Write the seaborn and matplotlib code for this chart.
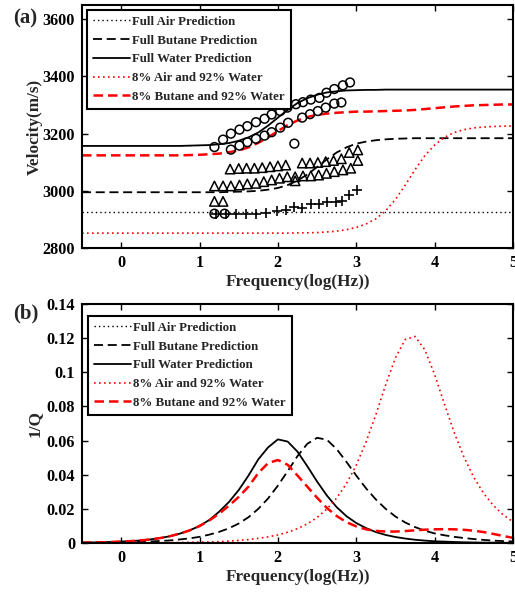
import matplotlib
matplotlib.use("Agg")
import matplotlib.pyplot as plt
import seaborn as sns
from matplotlib.ticker import FuncFormatter

# ---- data ----
freq = [-0.5, -0.375, -0.25, -0.125, 0.0, 0.125, 0.25, 0.375, 0.5, 0.625, 0.75, 0.875,
        1.0, 1.125, 1.25, 1.375, 1.5, 1.625, 1.75, 1.875, 2.0, 2.125, 2.25, 2.375,
        2.5, 2.625, 2.75, 2.875, 3.0, 3.125, 3.25, 3.375, 3.5, 3.625, 3.75, 3.875,
        4.0, 4.125, 4.25, 4.375, 4.5, 4.625, 4.75, 4.875, 5.0]

air_freq = [-0.5, 5.0]
vel_air = [2925, 2925]
vel_butane = [2995, 2995, 2995, 2995, 2995, 2995, 2995, 2995, 2995, 2995, 2995, 2995,
              2995, 2995, 2995, 2996, 2997, 2998, 3000, 3004, 3010, 3020, 3036, 3057,
              3083, 3110, 3134, 3152, 3165, 3172, 3177, 3180, 3182, 3183, 3184, 3184,
              3184, 3184, 3184, 3184, 3184, 3184, 3184, 3184, 3184]
vel_water = [3157, 3157, 3157, 3157, 3157, 3157, 3157, 3157, 3157, 3157, 3157, 3158,
             3159, 3160, 3163, 3167, 3175, 3187, 3204, 3228, 3256, 3283, 3307, 3324,
             3336, 3344, 3348, 3351, 3352, 3353, 3353, 3354, 3354, 3354, 3354, 3354,
             3354, 3354, 3354, 3354, 3354, 3354, 3354, 3354, 3354]
vel_air_water = [2852, 2852, 2852, 2852, 2852, 2852, 2852, 2852, 2852, 2852, 2852, 2852,
                 2852, 2852, 2852, 2852, 2852, 2852, 2852, 2852, 2852, 2852, 2853, 2853,
                 2854, 2856, 2859, 2864, 2872, 2884, 2902, 2930, 2970, 3020, 3074, 3123,
                 3160, 3187, 3204, 3214, 3220, 3223, 3225, 3226, 3227]
vel_butane_water = [3124, 3124, 3124, 3124, 3124, 3124, 3124, 3124, 3124, 3124, 3124, 3125,
                    3126, 3128, 3130, 3135, 3141, 3152, 3168, 3187, 3209, 3230, 3246, 3258,
                    3266, 3270, 3273, 3275, 3277, 3277, 3278, 3279, 3280, 3281, 3283, 3286,
                    3289, 3292, 3295, 3297, 3299, 3300, 3301, 3302, 3302]

invq_air = [0.0, 0.0]
invq_butane = [0.0001, 0.0002, 0.0002, 0.0003, 0.0004, 0.0005, 0.0006, 0.0009, 0.0012, 0.0015,
               0.0021, 0.0027, 0.0036, 0.0049, 0.0065, 0.0086, 0.0114, 0.0151, 0.0200, 0.0261,
               0.0336, 0.0421, 0.0509, 0.0581, 0.0616, 0.0605, 0.0550, 0.0475, 0.0395, 0.0320,
               0.0255, 0.0200, 0.0155, 0.0120, 0.0093, 0.0072, 0.0056, 0.0045, 0.0036, 0.0029,
               0.0023, 0.0018, 0.0014, 0.0011, 0.0009]
invq_water = [0.0002, 0.0003, 0.0004, 0.0006, 0.0008, 0.0011, 0.0015, 0.0021, 0.0029, 0.0040,
              0.0055, 0.0074, 0.0100, 0.0135, 0.0183, 0.0240, 0.0310, 0.0395, 0.0490, 0.0560,
              0.0607, 0.0594, 0.0535, 0.0450, 0.0360, 0.0278, 0.0210, 0.0157, 0.0117, 0.0087,
              0.0064, 0.0047, 0.0035, 0.0026, 0.0019, 0.0014, 0.0010, 0.0008, 0.0006, 0.0004,
              0.0003, 0.0002, 0.0002, 0.0001, 0.0001]
invq_air_water = [0.0, 0.0, 0.0, 0.0, 0.0001, 0.0001, 0.0001, 0.0001, 0.0001, 0.0002,
                  0.0003, 0.0004, 0.0005, 0.0006, 0.0008, 0.0011, 0.0015, 0.0020, 0.0027, 0.0036,
                  0.0047, 0.0063, 0.0084, 0.0112, 0.0149, 0.0199, 0.0263, 0.0348, 0.0456, 0.0592,
                  0.0752, 0.0926, 0.1085, 0.1192, 0.1210, 0.1132, 0.0987, 0.0814, 0.0647, 0.0502,
                  0.0384, 0.0291, 0.0220, 0.0165, 0.0124]
invq_butane_water = [0.0002, 0.0003, 0.0004, 0.0006, 0.0008, 0.0011, 0.0015, 0.0021, 0.0029, 0.0040,
                     0.0055, 0.0074, 0.0099, 0.0132, 0.0172, 0.0218, 0.0270, 0.0330, 0.0410, 0.0468,
                     0.0486, 0.0458, 0.0395, 0.0330, 0.0265, 0.0205, 0.0158, 0.0122, 0.0097, 0.0080,
                     0.0071, 0.0067, 0.0067, 0.0070, 0.0074, 0.0078, 0.0080, 0.0081, 0.0080, 0.0077,
                     0.0072, 0.0064, 0.0053, 0.0041, 0.0030]

# measured points (panel a)
circle_freq = [1.19, 1.30, 1.40, 1.51, 1.61, 1.72, 1.83, 1.92, 2.03, 2.12, 2.23, 2.32, 2.42,
               2.53, 2.62, 2.72, 2.83, 2.92,
               1.40, 1.51, 1.61, 1.72, 1.83, 1.92, 2.03, 2.13, 2.31, 2.41, 2.51, 2.61, 2.72, 2.81,
               2.21, 1.19, 1.32]
circle_vel = [3153, 3179, 3200, 3214, 3226, 3240, 3252, 3267, 3279, 3291, 3303, 3310, 3319,
              3325, 3343, 3356, 3369, 3379,
              3144, 3158, 3170, 3182, 3193, 3205, 3221, 3238, 3256, 3268, 3279, 3291, 3305, 3309,
              3165, 2920, 2920]
tri_freq = [1.39, 1.50, 1.60, 1.70, 1.80, 1.90, 2.00, 2.10, 2.31, 2.41, 2.51, 2.61, 2.71,
            2.81, 2.91, 3.02,
            1.19, 1.30, 1.40, 1.51, 1.61, 1.72, 1.82, 1.92, 2.02, 2.12, 2.22, 2.32, 2.42,
            2.52, 2.62, 2.72, 2.83, 2.93, 3.02,
            2.22, 1.19, 1.30]
tri_vel = [3076, 3078, 3079, 3079, 3081, 3084, 3087, 3090, 3097, 3097, 3099, 3102, 3106,
           3112, 3134, 3143,
           3017, 3017, 3017, 3020, 3024, 3026, 3032, 3038, 3044, 3049, 3049, 3052, 3052,
           3055, 3061, 3067, 3073, 3079, 3106,
           3035, 2963, 2963]
plus_freq = [1.21, 1.34, 1.47, 1.59, 1.72, 1.85, 1.99, 2.10, 2.21, 2.31, 2.42, 2.52, 2.63,
             2.74, 2.82, 2.91, 3.01]
plus_vel = [2920, 2920, 2920, 2920, 2920, 2922, 2928, 2934, 2943, 2941, 2953, 2955, 2961,
            2961, 2965, 2987, 3002]

labels = ["Full Air Prediction", "Full Butane Prediction", "Full Water Prediction",
          "8% Air and 92% Water", "8% Butane and 92% Water"]
x_ticks = [0, 1, 2, 3, 4, 5]
vel_ticks = [2800, 3000, 3200, 3400, 3600]
invq_ticks = [0, 0.02, 0.04, 0.06, 0.08, 0.1, 0.12, 0.14]

# ---- style ----
sns.set_theme(style="ticks")
plt.rcParams["font.family"] = ["Liberation Serif", "DejaVu Serif"]
plt.rcParams["font.weight"] = "bold"
plt.rcParams["axes.labelweight"] = "bold"

styles = [
    dict(color="black", lw=1.0, linestyle=(0, (1, 2.2))),
    dict(color="black", lw=1.3, linestyle=(0, (5, 2.6))),
    dict(color="black", lw=1.3, linestyle="-"),
    dict(color="red", lw=1.2, linestyle=(0, (1, 2.0))),
    dict(color="red", lw=1.8, linestyle=(0, (3.8, 2.0))),
]

fig = plt.figure(figsize=(5.15, 5.92), dpi=100)
ax_a = fig.add_axes([0.1592, 0.5811, 0.8369, 0.4105])
ax_b = fig.add_axes([0.1592, 0.0828, 0.8369, 0.4037])

curves_a = [(air_freq, vel_air), (freq, vel_butane), (freq, vel_water),
            (freq, vel_air_water), (freq, vel_butane_water)]
curves_b = [(air_freq, invq_air), (freq, invq_butane), (freq, invq_water),
            (freq, invq_air_water), (freq, invq_butane_water)]

for ax, curves in [(ax_a, curves_a), (ax_b, curves_b)]:
    for (xs, ys), lab, st in zip(curves, labels, styles):
        sns.lineplot(x=xs, y=ys, ax=ax, label=lab, sort=False, **st)

# measured data
sns.scatterplot(x=circle_freq, y=circle_vel, ax=ax_a, marker="o", s=40,
                facecolor="none", edgecolor="black", linewidth=1.1, zorder=4)
sns.scatterplot(x=tri_freq, y=tri_vel, ax=ax_a, marker="^", s=46,
                facecolor="none", edgecolor="black", linewidth=1.1, zorder=4)
sns.scatterplot(x=plus_freq, y=plus_vel, ax=ax_a, marker="+", s=62,
                color="black", linewidth=1.2, zorder=4)

fmt = FuncFormatter(lambda v, p: f"{v:g}")
for ax in (ax_a, ax_b):
    ax.set_xlim(-0.5, 5.0)
    ax.set_xticks(x_ticks)
    ax.xaxis.set_major_formatter(fmt)
    ax.tick_params(direction="in", top=True, right=True, length=4, width=1.0,
                   labelsize=11.7, pad=5, colors="black")
    for sp in ax.spines.values():
        sp.set_linewidth(1.5)
        sp.set_color("black")
    ax.set_xlabel("Frequency(log(Hz))", fontsize=12.4, labelpad=2)
    ax.legend(loc="upper left", fontsize=9.3, frameon=True, fancybox=False,
              edgecolor="black", framealpha=1, borderaxespad=0,
              bbox_to_anchor=(0.012, 0.979) if ax is ax_a else (0.014, 0.95),
              handlelength=2.9, handletextpad=0.15, labelspacing=0.52,
              borderpad=0.45).get_frame().set_linewidth(1.5)

ax_a.set_ylim(2800, 3650)
ax_a.set_yticks(vel_ticks)
ax_a.yaxis.set_major_formatter(fmt)
ax_a.set_ylabel("Velocity(m/s)", fontsize=12.4)
ax_a.yaxis.set_label_coords(-0.092, 0.5)

ax_b.set_ylim(0, 0.14)
ax_b.set_yticks(invq_ticks)
ax_b.yaxis.set_major_formatter(fmt)
ax_b.set_ylabel("1/Q", fontsize=12.4)
ax_b.yaxis.set_label_coords(-0.092, 0.5)

fig.text(0.025, 0.968, "(a)", fontsize=15, fontweight="bold", va="center")
fig.text(0.025, 0.471, "(b)", fontsize=15, fontweight="bold", va="center")

fig.savefig("out.png", dpi=100)
